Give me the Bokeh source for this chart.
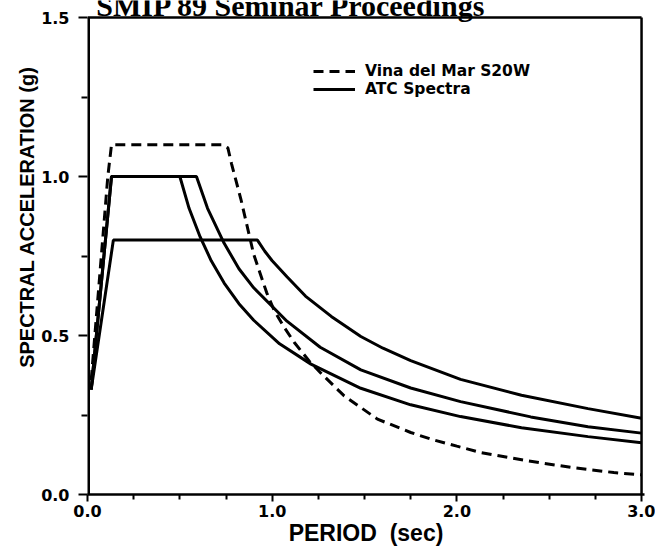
from bokeh.plotting import figure
from bokeh.models import Range1d, FixedTicker, PrintfTickFormatter, Legend, LegendItem
from bokeh.core.properties import value
from bokeh.embed import file_html
from bokeh.resources import INLINE

# ---- data ----
x_ticks = [0.0, 1.0, 2.0, 3.0]
x_minor = [0.25, 0.5, 0.75, 1.25, 1.5, 1.75, 2.25, 2.5, 2.75]
y_ticks = [0.0, 0.5, 1.0, 1.5]
y_minor = [0.25, 0.75, 1.25]

# Vina del Mar S20W (dashed)
vina_T = [0.02, 0.11, 0.13, 0.73, 0.76, 0.78, 0.83, 0.87, 0.90, 0.97, 1.01, 1.06, 1.12,
          1.20, 1.27, 1.39, 1.57, 1.75, 1.86, 2.00, 2.13, 2.38, 2.62, 2.85, 3.00]
vina_SA = [0.36, 1.00, 1.10, 1.10, 1.09, 1.04, 0.93, 0.83, 0.755, 0.635, 0.58, 0.53, 0.478,
           0.42, 0.378, 0.31, 0.237, 0.195, 0.174, 0.152, 0.132, 0.106, 0.085, 0.069, 0.062]

# ATC spectra (solid)
atc1_T = [0.02, 0.13, 0.50, 0.55, 0.61, 0.67, 0.74, 0.82, 0.90, 1.04, 1.21, 1.48, 1.75, 2.02, 2.35, 2.71, 3.00]
atc1_SA = [0.33, 1.00, 1.00, 0.90, 0.81, 0.735, 0.665, 0.60, 0.548, 0.474, 0.41, 0.334, 0.282, 0.245, 0.21, 0.182, 0.163]

atc2_T = [0.02, 0.13, 0.59, 0.65, 0.74, 0.82, 0.90, 1.08, 1.26, 1.48, 1.75, 2.02, 2.40, 2.71, 3.00]
atc2_SA = [0.33, 1.00, 1.00, 0.90, 0.79, 0.71, 0.65, 0.545, 0.463, 0.392, 0.335, 0.292, 0.244, 0.213, 0.193]

atc3_T = [0.02, 0.14, 0.92, 0.96, 1.00, 1.08, 1.18, 1.32, 1.48, 1.60, 1.75, 2.02, 2.35, 2.71, 3.00]
atc3_SA = [0.33, 0.80, 0.80, 0.765, 0.735, 0.685, 0.624, 0.56, 0.497, 0.46, 0.421, 0.362, 0.312, 0.27, 0.240]

title_text = "SMIP 89 Seminar Proceedings"
x_title = "PERIOD\u00a0 (sec)"
y_title = "SPECTRAL ACCELERATION (g)"
legend_labels = ["Vina del Mar S20W", "ATC Spectra"]

# axis limits of the boxed plot area
X_MIN, X_MAX = 0.0, 3.0
Y_MIN, Y_MAX = 0.0, 1.5

SANS = "Liberation Sans"
WIDE = "DejaVu Sans"
BLACK = "black"

# frame reaches the top of the canvas so that the (cropped) heading can sit above the box
p = figure(width=655, height=554,
           x_range=Range1d(X_MIN, X_MAX + 0.016), y_range=Range1d(Y_MIN, Y_MAX + 17 / 318),
           output_backend="svg", toolbar_location=None,
           min_border_left=87, min_border_right=11, min_border_top=0, min_border_bottom=60)
p.xgrid.visible = False
p.ygrid.visible = False
p.background_fill_color = "white"
p.border_fill_color = "white"
p.outline_line_color = None

for ax in (p.xaxis[0], p.yaxis[0]):
    ax.axis_line_width = 2.5
    ax.axis_line_color = BLACK
    ax.major_tick_line_width = 2
    ax.minor_tick_line_width = 2
    ax.major_tick_in = 0
    ax.minor_tick_in = 0
    ax.major_label_text_font = WIDE
    ax.major_label_text_font_style = "bold"
    ax.major_label_text_font_size = "16px"
    ax.major_label_text_color = BLACK
    ax.axis_label_text_font = SANS
    ax.axis_label_text_font_style = "bold"
    ax.axis_label_text_color = BLACK
    ax.formatter = PrintfTickFormatter(format="%.1f")

p.xaxis[0].ticker = FixedTicker(ticks=x_ticks, minor_ticks=x_minor)
p.yaxis[0].ticker = FixedTicker(ticks=y_ticks, minor_ticks=y_minor)
p.xaxis[0].major_tick_out = 7
p.xaxis[0].minor_tick_out = 5
p.xaxis[0].major_label_standoff = 3
p.xaxis[0].axis_label = x_title
p.xaxis[0].axis_label_text_font_size = "23px"
p.xaxis[0].axis_label_standoff = 0
p.yaxis[0].axis_line_color = None
p.yaxis[0].major_tick_out = 9
p.yaxis[0].minor_tick_out = 6
p.yaxis[0].major_label_standoff = 9
# leading no-break spaces lift the label toward the top, as in the reference
p.yaxis[0].axis_label = "\u00a0" * 11 + y_title
p.yaxis[0].axis_label_text_font_size = "20px"
p.yaxis[0].axis_label_standoff = 0

# box around the plot area (left, top, right)
p.segment(x0=[X_MIN], y0=[Y_MIN], x1=[X_MIN], y1=[Y_MAX], line_color=BLACK, line_width=5)
p.segment(x0=[X_MIN], y0=[Y_MAX], x1=[X_MAX], y1=[Y_MAX], line_color=BLACK, line_width=2.5)
p.segment(x0=[X_MAX], y0=[Y_MIN], x1=[X_MAX], y1=[Y_MAX], line_color=BLACK, line_width=2.5)

r_v = p.line(vina_T, vina_SA, line_color=BLACK, line_width=3, line_dash="10 6")
r1 = p.line(atc1_T, atc1_SA, line_color=BLACK, line_width=3)
r2 = p.line(atc2_T, atc2_SA, line_color=BLACK, line_width=3)
r3 = p.line(atc3_T, atc3_SA, line_color=BLACK, line_width=3)

# two single-entry legends, so that the rows sit close together as in the reference
for label, rend, loc in ((legend_labels[0], r_v, (226, 414)), (legend_labels[1], r1, (226, 396))):
    lg = Legend(items=[LegendItem(label=label, renderers=[rend])],
                location=loc, orientation="vertical",
                border_line_color=None, background_fill_alpha=0,
                padding=0, margin=0, spacing=0,
                glyph_width=42, glyph_height=14, label_height=14, label_standoff=10,
                label_text_font=WIDE, label_text_font_style="bold",
                label_text_font_size="15.5px", label_text_color=BLACK)
    p.add_layout(lg, "center")

# heading of the scanned page, cropped by the top edge as in the reference
p.text(x=[1.104], y=[1.5376], text=[title_text], text_font=value("Liberation Serif"),
       text_font_style="bold", text_font_size="30px", text_align="center",
       text_baseline="alphabetic", text_color=BLACK)

open("out.html", "w").write(file_html(p, INLINE))
